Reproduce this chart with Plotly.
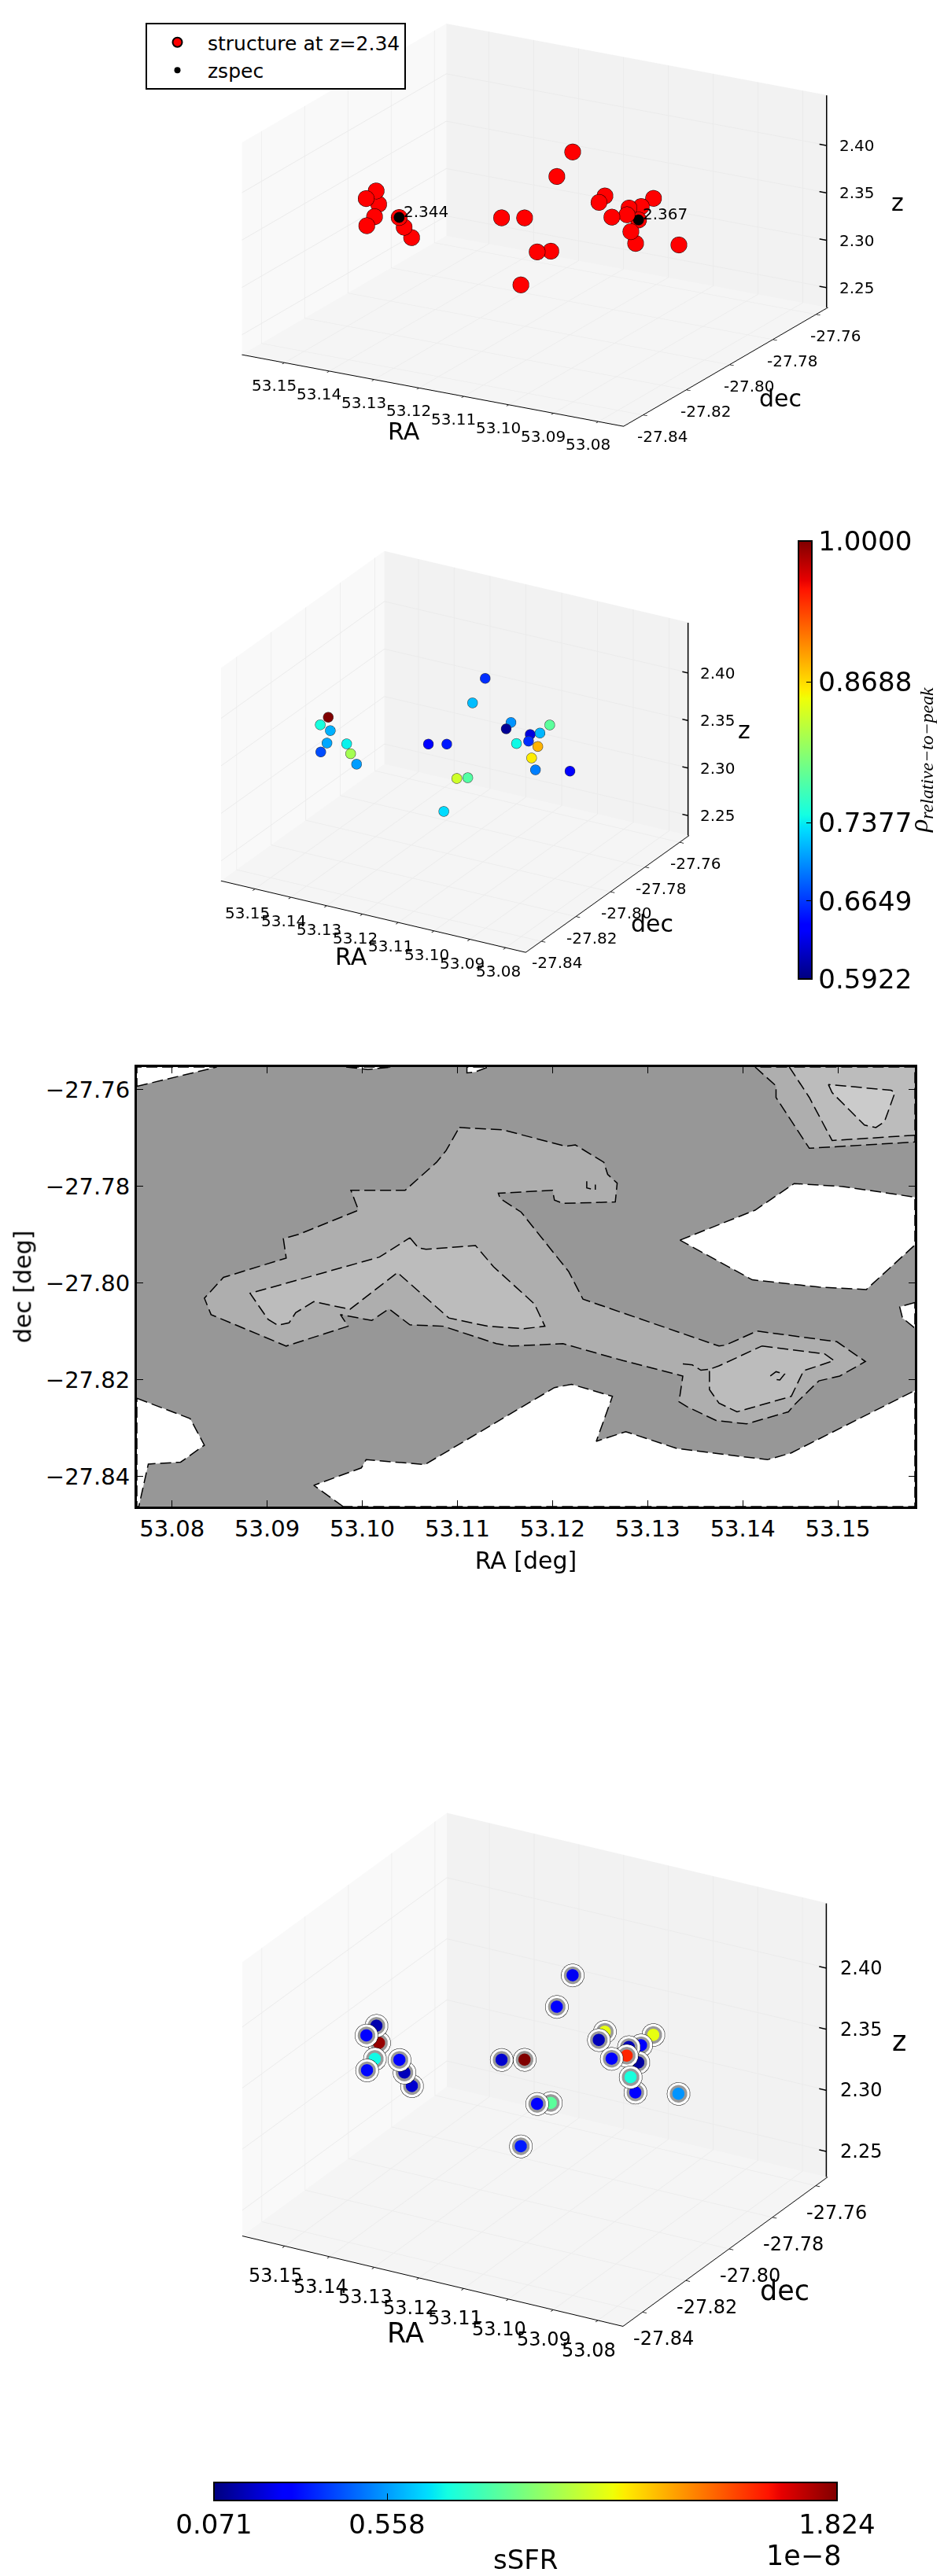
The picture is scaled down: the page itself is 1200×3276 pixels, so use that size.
import math
import plotly.graph_objects as go

# the page keeps the browser's 8px body margin, so the figure is that much smaller
PAGE = 8
W = 1200 - PAGE
H = 3276 - PAGE

# galaxies of the structure
ra = [53.1460, 53.1463, 53.1464, 53.1454, 53.1452, 53.1413, 53.1412, 53.1405,
      53.1190, 53.1129, 53.1109, 53.1130, 53.1147, 53.1115, 53.1099,
      53.1027, 53.1021, 53.0973, 53.0949, 53.0954, 53.0946, 53.0938, 53.0939, 53.0921, 53.0920, 53.0785]
dec = [-27.815, -27.819, -27.813, -27.817, -27.821, -27.8141, -27.812, -27.810,
       -27.813, -27.815, -27.807, -27.809, -27.813, -27.803, -27.799,
       -27.799, -27.803, -27.807, -27.805, -27.803, -27.799, -27.795, -27.8017, -27.809, -27.807, -27.815]
z = [2.369, 2.366, 2.352, 2.345, 2.341, 2.344, 2.331, 2.318,
     2.362, 2.370, 2.326, 2.326, 2.295, 2.399, 2.421,
     2.381, 2.380, 2.374, 2.376, 2.380, 2.377, 2.381, 2.367, 2.366, 2.351, 2.372]
rho = [1.0, 0.747, 0.714, 0.71, 0.674, 0.74, 0.816, 0.706,
       0.637, 0.653, 0.776, 0.837, 0.731, 0.719, 0.661,
       0.702, 0.60, 0.743, 0.661, 0.625, 0.716, 0.78, 0.886, 0.861, 0.694, 0.637]
ssfr = [0.14, 0.264, 1.79, 0.72, 0.30, 0.28, 0.16, 0.19,
        0.19, 1.824, 0.88, 0.264, 0.334, 0.28, 0.246,
        1.175, 0.16, 0.28, 1.596, 0.16, 0.28, 1.175, 0.12, 0.74, 0.264, 0.544]

spec_ra = [53.1413, 53.0939]
spec_dec = [-27.8141, -27.8017]
spec_z = [2.344, 2.367]
spec_txt = ["2.344", "2.367"]

ra_ticks = [53.08, 53.09, 53.10, 53.11, 53.12, 53.13, 53.14, 53.15]
ra_labels = ["53.08", "53.09", "53.10", "53.11", "53.12", "53.13", "53.14", "53.15"]
dec_ticks = [-27.84, -27.82, -27.80, -27.78, -27.76]
dec_labels = ["-27.84", "-27.82", "-27.80", "-27.78", "-27.76"]
z_ticks = [2.25, 2.30, 2.35, 2.40]
z_labels = ["2.25", "2.30", "2.35", "2.40"]
rho_ticks = [0.5922, 0.6649, 0.7377, 0.8688, 1.0]
rho_labels = ["0.5922", "0.6649", "0.7377", "0.8688", "1.0000"]
ssfr_ticks = [0.071, 0.558, 1.824]
ssfr_labels = ["0.071", "0.558", "1.824"]

RA_LIM = [53.1595, 53.0744]
DEC_LIM = [-27.849, -27.7545]
Z_LIM = [2.229, 2.453]
# just inside the box, annotations sitting exactly on the limit get dropped as offscreen
RA_EDGE = 53.0746
DEC_EDGE = -27.7547
DEC_FRONT = -27.8488
Z_FLOOR = 2.2295

# density contours of the map panel, outlines in RA / dec
white_a_ra = [53.0763, 53.0847, 53.0763]
white_a_dec = [-27.7593, -27.7553, -27.7553]
white_b_ra = [53.0983, 53.1006, 53.1031]
white_b_dec = [-27.7553, -27.7558, -27.7553]
white_c_ra = [53.1110, 53.1110, 53.1119, 53.1132]
white_c_dec = [-27.7553, -27.7565, -27.7563, -27.7553]
white_d_ra = [53.1334, 53.1413, 53.1454, 53.1505, 53.1581, 53.1581, 53.1530, 53.1480, 53.1410]
white_d_dec = [-27.7911, -27.7849, -27.7794, -27.7800, -27.7822, -27.7921, -27.8013, -27.8008, -27.7993]
white_e_ra = [53.1581, 53.1565, 53.1568, 53.1581]
white_e_dec = [-27.8040, -27.8049, -27.8072, -27.8093]
white_f_ra = [53.0763, 53.0819, 53.0834, 53.0809, 53.0775, 53.0765, 53.0763]
white_f_dec = [-27.8238, -27.8280, -27.8335, -27.8370, -27.8374, -27.8462, -27.8462]
white_g_ra = [53.0980, 53.0949, 53.0999, 53.1004, 53.1066, 53.1202, 53.1220, 53.1263, 53.1246, 53.1277,
              53.1331, 53.1426, 53.1451, 53.1581, 53.1581]
white_g_dec = [-27.8462, -27.8418, -27.8382, -27.8365, -27.8375, -27.8216, -27.8209, -27.8234, -27.8327, -27.8307,
               -27.8342, -27.8365, -27.8351, -27.8222, -27.8462]

mid_a_ra = [53.1102, 53.1148, 53.1214, 53.1224, 53.1254, 53.1258, 53.1268, 53.1266, 53.1211, 53.1202,
            53.1200, 53.1143, 53.1145, 53.1167, 53.1217, 53.1232, 53.1375, 53.1382, 53.1415, 53.1499,
            53.1529, 53.1502, 53.1480, 53.1454, 53.1448, 53.1404, 53.1372, 53.1341, 53.1333, 53.1337,
            53.1274, 53.1211, 53.1157, 53.1141, 53.1085, 53.1050, 53.1028, 53.1010, 53.0977, 53.0985,
            53.0920, 53.0841, 53.0834, 53.0854, 53.0920, 53.0917, 53.0933, 53.0996, 53.0988, 53.1045,
            53.1078, 53.1088]
mid_a_dec = [-27.7678, -27.7683, -27.7717, -27.7714, -27.7750, -27.7775, -27.7793, -27.7832, -27.7835, -27.7828,
             -27.7808, -27.7814, -27.7825, -27.7853, -27.7976, -27.8033, -27.8130, -27.8128, -27.8099, -27.8121,
             -27.8162, -27.8192, -27.8202, -27.8252, -27.8266, -27.8291, -27.8284, -27.8255, -27.8245, -27.8192,
             -27.8160, -27.8125, -27.8130, -27.8125, -27.8089, -27.8086, -27.8053, -27.8077, -27.8065, -27.8089,
             -27.8130, -27.8065, -27.8031, -27.7988, -27.7948, -27.7908, -27.7899, -27.7849, -27.7808, -27.7808,
             -27.7750, -27.7726]
mid_b_ra = [53.1413, 53.1435, 53.1435, 53.1470, 53.1581, 53.1581]
mid_b_dec = [-27.7553, -27.7592, -27.7616, -27.7721, -27.7708, -27.7553]

high_a_ra = [53.1050, 53.1059, 53.1067, 53.1119, 53.1138, 53.1181, 53.1192, 53.1170, 53.1132, 53.1091,
             53.1037, 53.0987, 53.0949, 53.0930, 53.0923, 53.0911, 53.0901, 53.0882, 53.1018]
high_a_dec = [-27.7906, -27.7927, -27.7930, -27.7922, -27.7966, -27.8043, -27.8089, -27.8094, -27.8089, -27.8072,
              -27.7978, -27.8054, -27.8038, -27.8061, -27.8082, -27.8087, -27.8075, -27.8021, -27.7946]
high_b_ra = [53.1420, 53.1486, 53.1496, 53.1477, 53.1464, 53.1451, 53.1394, 53.1375, 53.1365, 53.1365, 53.1375]
high_b_dec = [-27.8130, -27.8146, -27.8160, -27.8173, -27.8181, -27.8234, -27.8266, -27.8248, -27.8220, -27.8178, -27.8171]
high_c_ra = [53.1449, 53.1470, 53.1494, 53.1581, 53.1581]
high_c_dec = [-27.7553, -27.7616, -27.7705, -27.7694, -27.7553]

top_ra = [53.1490, 53.1494, 53.1528, 53.1540, 53.1549, 53.1560, 53.1556, 53.1505]
top_dec = [-27.7589, -27.7606, -27.7673, -27.7678, -27.7666, -27.7606, -27.7601, -27.7592]

open_a_ra = [53.1236, 53.1236, 53.1245, 53.1245]
open_a_dec = [-27.7789, -27.7803, -27.7807, -27.7796]
open_b_ra = [53.1429, 53.1435, 53.1444, 53.1439, 53.1432]
open_b_dec = [-27.8192, -27.8183, -27.8188, -27.8200, -27.8199]
open_c_ra = [53.1337, 53.1347, 53.1356, 53.1365]
open_c_dec = [-27.8167, -27.8169, -27.8180, -27.8178]

# same jet as matplotlib, not the plotly one
jet = [[0, "rgb(0,0,127)"], [0.11, "rgb(0,0,255)"], [0.125, "rgb(0,0,255)"], [0.34, "rgb(0,219,255)"],
       [0.35, "rgb(0,230,247)"], [0.375, "rgb(20,255,226)"], [0.64, "rgb(239,255,8)"], [0.65, "rgb(247,246,0)"],
       [0.66, "rgb(255,236,0)"], [0.89, "rgb(255,19,0)"], [0.91, "rgb(232,0,0)"], [1, "rgb(128,0,0)"]]

FONT = "DejaVu Sans"
EYE = 1.1  # orthographic: box size comes from the aspect ratio


def px_x(x):
    return (x - PAGE) / W


def px_y(y):
    return 1 - (y - PAGE) / H


def axis3d(tickvals, rng):
    return dict(
        title=dict(text=""),
        range=rng,
        tickmode="array",
        tickvals=tickvals,
        showticklabels=False,
        ticks="outside",
        ticklen=6,
        tickwidth=2,
        tickcolor="black",
        showline=True,
        linecolor="black",
        linewidth=2,
        gridcolor="#ebebeb",
        gridwidth=2,
        zeroline=False,
        showspikes=False,
        showbackground=True,
    )


def label3d(text, x3, y3, z3, shift, size):
    return dict(
        x=x3, y=y3, z=z3, text=text, showarrow=False, xshift=shift[0], yshift=shift[1],
        xanchor="center", yanchor="middle", font=dict(size=size, family=FONT, color="black"),
    )


def scene3d(left, right, top, bottom, aspect, theta, elev, shift, tick_size, title_size, offsets, extra=()):
    xa = axis3d(ra_ticks, RA_LIM)
    ya = axis3d(dec_ticks, DEC_LIM)
    za = axis3d(z_ticks, Z_LIM)
    # plotly keeps z ticks on the left edge, the panel has them on the right: drawn by hand
    za.update(ticks="", showline=False)
    xa["backgroundcolor"] = "#f9f9f9"
    ya["backgroundcolor"] = "#f2f2f2"
    za["backgroundcolor"] = "#f5f5f5"
    th = math.radians(theta)
    el = math.radians(elev)
    # gl tick text is unreliable in size and loses the minus, so labels are scene annotations
    notes = [
        label3d("RA", 53.1165, DEC_FRONT, Z_FLOOR, offsets["ra_title"], title_size),
        label3d("dec", RA_EDGE, -27.80, Z_FLOOR, offsets["dec_title"], title_size),
        label3d("z", RA_EDGE, DEC_EDGE, 2.34, offsets["z_title"], title_size),
    ]
    for t, s in zip(ra_ticks, ra_labels):
        notes.append(label3d(s, t, DEC_FRONT, Z_FLOOR, offsets["ra"], tick_size))
    for t, s in zip(dec_ticks, dec_labels):
        notes.append(label3d(s, RA_EDGE, t, Z_FLOOR, offsets["dec"], tick_size))
    for t, s in zip(z_ticks, z_labels):
        notes.append(label3d(s, RA_EDGE, DEC_EDGE, t, offsets["z"], tick_size))
    notes.extend(extra)
    return dict(
        domain=dict(x=[px_x(left), px_x(right)], y=[px_y(bottom), px_y(top)]),
        xaxis=xa,
        yaxis=ya,
        zaxis=za,
        annotations=notes,
        aspectmode="manual",
        aspectratio=dict(x=aspect[0], y=aspect[1], z=aspect[2]),
        camera=dict(
            eye=dict(x=EYE * math.sin(th) * math.cos(el), y=-EYE * math.cos(th) * math.cos(el),
                     z=EYE * math.sin(el) + shift),
            center=dict(x=0, y=0, z=shift),
            up=dict(x=0, y=0, z=1),
            projection=dict(type="orthographic"),
        ),
    )


def z_axis_line(scene_name):
    # axis line and ticks on the right hand vertical edge of the box
    line_x = [RA_EDGE, RA_EDGE]
    line_y = [DEC_EDGE, DEC_EDGE]
    line_z = list(Z_LIM)
    for t in z_ticks:
        line_x += [None, RA_EDGE, RA_EDGE + 0.0016]
        line_y += [None, DEC_EDGE, DEC_EDGE]
        line_z += [None, t, t]
    fig.add_trace(go.Scatter3d(
        x=line_x, y=line_y, z=line_z, mode="lines", line=dict(color="black", width=3),
        showlegend=False, hoverinfo="skip", scene=scene_name,
    ))


fig = go.Figure()

# panel 1, structure and spectroscopic redshifts
fig.add_trace(go.Scatter3d(
    x=ra, y=dec, z=z, mode="markers", name="structure at z=2.34", scene="scene",
    marker=dict(size=12, color="red", line=dict(color="black", width=2)),
))
fig.add_trace(go.Scatter3d(
    x=spec_ra, y=spec_dec, z=spec_z, mode="markers", name="zspec", scene="scene",
    marker=dict(size=8, color="black"),
))
z_axis_line("scene")
spec_notes = [label3d(s, a, d, c, (34, 7), 20) for s, a, d, c in zip(spec_txt, spec_ra, spec_dec, spec_z)]

# panel 2, overdensity
fig.add_trace(go.Scatter3d(
    x=ra, y=dec, z=z, mode="markers", showlegend=False, scene="scene2",
    marker=dict(
        size=7.5, color=rho, colorscale=jet, cmin=0.5922, cmax=1.0,
        line=dict(color="#333333", width=2),
        colorbar=dict(
            x=px_x(1015), xanchor="left", xpad=0, y=px_y(688), yanchor="top", ypad=0,
            len=557, lenmode="pixels", thickness=17, thicknessmode="pixels",
            outlinecolor="black", outlinewidth=2,
            tickmode="array", tickvals=rho_ticks, ticktext=rho_labels,
            ticks="inside", ticklen=8, tickcolor="black",
            tickfont=dict(size=34, family=FONT, color="black"),
        ),
    ),
))
z_axis_line("scene2")

# panel 3, specific star formation rate with rings
fig.add_trace(go.Scatter3d(
    x=ra, y=dec, z=z, mode="markers", showlegend=False, scene="scene3",
    marker=dict(size=17, color="white", line=dict(color="black", width=2)),
))
fig.add_trace(go.Scatter3d(
    x=ra, y=dec, z=z, mode="markers", showlegend=False, scene="scene3",
    marker=dict(size=13, color="#999999"),
))
fig.add_trace(go.Scatter3d(
    x=ra, y=dec, z=z, mode="markers", showlegend=False, scene="scene3",
    marker=dict(
        size=9, color=ssfr, colorscale=jet, cmin=0.071, cmax=1.824,
        colorbar=dict(
            orientation="h",
            x=px_x(272), xanchor="left", xpad=0, y=px_y(3157), yanchor="top", ypad=0,
            len=792, lenmode="pixels", thickness=23, thicknessmode="pixels",
            outlinecolor="black", outlinewidth=2,
            tickmode="array", tickvals=ssfr_ticks, ticktext=ssfr_labels,
            ticks="inside", ticklen=10, tickcolor="black",
            tickfont=dict(size=34, family=FONT, color="black"),
        ),
    ),
))
z_axis_line("scene3")

# panel 4, density map
line_style = dict(color="black", width=1.5, dash="14px,6px")
filled = [
    (mid_a_ra, mid_a_dec, "#aeaeae"),
    (mid_b_ra, mid_b_dec, "#aeaeae"),
    (high_a_ra, high_a_dec, "#bcbcbc"),
    (high_b_ra, high_b_dec, "#bcbcbc"),
    (high_c_ra, high_c_dec, "#bcbcbc"),
    (top_ra, top_dec, "#cbcbcb"),
    (white_a_ra, white_a_dec, "white"),
    (white_b_ra, white_b_dec, "white"),
    (white_c_ra, white_c_dec, "white"),
    (white_d_ra, white_d_dec, "white"),
    (white_e_ra, white_e_dec, "white"),
    (white_f_ra, white_f_dec, "white"),
    (white_g_ra, white_g_dec, "white"),
]
for xs, ys, colour in filled:
    fig.add_trace(go.Scatter(
        x=xs + xs[:1], y=ys + ys[:1], mode="lines", fill="toself", fillcolor=colour,
        line=line_style, showlegend=False, hoverinfo="skip", xaxis="x", yaxis="y",
    ))
for xs, ys in [(open_a_ra, open_a_dec), (open_b_ra, open_b_dec), (open_c_ra, open_c_dec)]:
    fig.add_trace(go.Scatter(
        x=xs, y=ys, mode="lines", line=line_style, showlegend=False, hoverinfo="skip", xaxis="x", yaxis="y",
    ))

fig.update_layout(
    width=W,
    height=H,
    margin=dict(l=0, r=0, t=0, b=0),
    paper_bgcolor="white",
    plot_bgcolor="#979797",
    font=dict(family=FONT, color="black"),
    showlegend=True,
    legend=dict(
        x=px_x(185), xanchor="left", y=px_y(29), yanchor="top",
        bgcolor="white", bordercolor="black", borderwidth=2, itemwidth=67,
        font=dict(size=25, family=FONT, color="black"),
    ),
    scene=scene3d(160, 1200, 8, 600, [1.885, 1.777, 0.966], 29.6, 19.3, -0.064, 20, 30,
                  dict(ra_title=(-40, -52), dec_title=(66, -44), z_title=(90, 0),
                       ra=(-14, -30), dec=(26, -28), z=(39, 0)), spec_notes),
    scene2=scene3d(157, 1000, 660, 1252, [1.508, 1.412, 1.003], 29.8, 24.2, 0, 20, 30,
                   dict(ra_title=(-31, -51), dec_title=(54, -41), z_title=(71, 0),
                        ra=(-10, -31), dec=(21, -28), z=(38, 0))),
    scene3=scene3d(160, 1200, 2254, 3010, [1.474, 1.389, 1.013], 29.7, 24.6, 0, 24, 35,
                   dict(ra_title=(-38, -67), dec_title=(72, -54), z_title=(93, 0),
                        ra=(-12, -39), dec=(28, -35), z=(44, 0))),
    xaxis=dict(
        domain=[px_x(174), px_x(1163)], range=[53.0763, 53.1581], dtick=0.01, tickformat=".2f",
        title=dict(text="RA [deg]", font=dict(size=30, family=FONT, color="black")),
        tickfont=dict(size=29, family=FONT, color="black"),
        showgrid=False, zeroline=False, ticks="inside", ticklen=8, tickcolor="black",
        showline=True, linecolor="black", linewidth=3, mirror="allticks",
    ),
    yaxis=dict(
        domain=[px_y(1916), px_y(1357)], range=[-27.8462, -27.7553], dtick=0.02, tickformat=".2f",
        title=dict(text="dec [deg]", standoff=10, font=dict(size=30, family=FONT, color="black")),
        tickfont=dict(size=29, family=FONT, color="black"),
        showgrid=False, zeroline=False, ticks="inside", ticklen=8, tickcolor="black",
        showline=True, linecolor="black", linewidth=3, mirror="allticks",
    ),
    annotations=[
        dict(text="1e−8", xref="paper", yref="paper", x=px_x(1021), y=px_y(3250), xanchor="center",
             yanchor="middle", showarrow=False, font=dict(size=35, family=FONT, color="black")),
        dict(text="sSFR", xref="paper", yref="paper", x=px_x(668), y=px_y(3255), xanchor="center",
             yanchor="middle", showarrow=False, font=dict(size=34, family=FONT, color="black")),
        dict(text="<i>ρ<sub>relative−to−peak</sub></i>", xref="paper", yref="paper", x=px_x(1170), y=px_y(967),
             xanchor="center", yanchor="middle", textangle=-90, showarrow=False,
             font=dict(size=34, family="Liberation Serif", color="black")),
    ],
)

fig.write_html("out.html")
